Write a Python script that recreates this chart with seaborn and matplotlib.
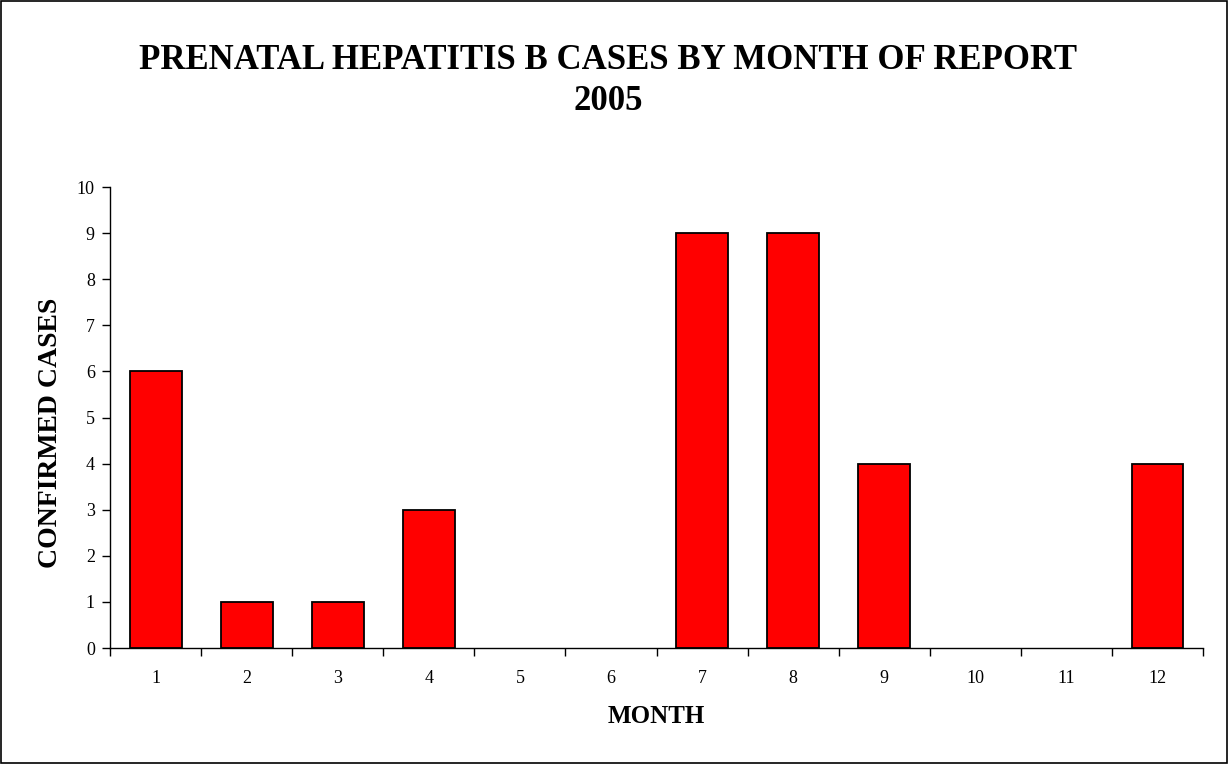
import matplotlib
matplotlib.use("Agg")
import matplotlib.pyplot as plt
import seaborn as sns
import pandas as pd
import numpy as np
from matplotlib.ticker import FixedLocator, NullFormatter, FixedFormatter

months = ["1", "2", "3", "4", "5", "6", "7", "8", "9", "10", "11", "12"]
cases = [6, 1, 1, 3, 0, 0, 9, 9, 4, 0, 0, 4]
yticks = [0, 1, 2, 3, 4, 5, 6, 7, 8, 9, 10]

sns.set_theme(style="white")
plt.rcParams["font.family"] = ["Liberation Serif", "DejaVu Serif"]
plt.rcParams.update({"text.color": "black", "axes.labelcolor": "black",
                     "xtick.color": "black", "ytick.color": "black"})

df = pd.DataFrame({"month": months, "cases": cases})

fig = plt.figure(figsize=(12.28, 7.64), dpi=100)
ax = fig.add_axes([0.0896, 0.1518, 0.8901, 0.6034])

sns.barplot(data=df, x="month", y="cases", order=months, color="#FF0000",
            saturation=1, width=0.57, edgecolor="black", linewidth=1.3, ax=ax)

# zero-height bars are invisible in the reference
for p in ax.patches:
    if p.get_height() == 0:
        p.set_visible(False)

ax.set_xlim(-0.5, len(months) - 0.5)
ax.set_ylim(0, 10)
ax.set_yticks(yticks)
ax.set_yticklabels([str(v) for v in yticks], fontsize=13)

# category boundaries as major ticks, labels at centers as minor ticks
ax.xaxis.set_major_locator(FixedLocator(np.arange(-0.5, len(months), 1.0)))
ax.xaxis.set_major_formatter(NullFormatter())
ax.xaxis.set_minor_locator(FixedLocator(np.arange(len(months))))
ax.xaxis.set_minor_formatter(FixedFormatter(months))
ax.tick_params(axis="x", which="major", direction="out", length=6, width=1, color="black", bottom=True)
ax.tick_params(axis="x", which="minor", length=0, labelsize=13, pad=15.5, bottom=True)
ax.tick_params(axis="y", direction="out", length=6, width=1, color="black", left=True, labelsize=13, pad=5)

for s in ["top", "right"]:
    ax.spines[s].set_visible(False)
for s in ["left", "bottom"]:
    ax.spines[s].set_color("black")
    ax.spines[s].set_linewidth(1.0)

ax.set_xlabel("MONTH", fontsize=18, fontweight="bold", labelpad=13)
ax.set_ylabel("CONFIRMED CASES", fontsize=20, fontweight="bold")
ax.yaxis.set_label_coords(-0.043, 0.466)

fig.text(0.495, 0.9425, "PRENATAL HEPATITIS B CASES BY MONTH OF REPORT\n2005",
         ha="center", va="top", fontsize=25, fontweight="bold", linespacing=1.33)

# figure border
fig.patches.append(plt.Rectangle((0.0008, 0.0013), 0.9984, 0.9974, transform=fig.transFigure,
                                 fill=False, edgecolor="black", linewidth=1.2))

fig.savefig("out.png", dpi=100)
